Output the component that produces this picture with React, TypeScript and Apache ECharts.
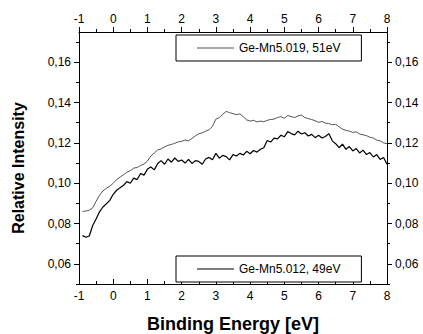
import React, { useEffect, useRef } from "react";
import * as echarts from "echarts";

const energy = [
  -0.9, -0.8, -0.7, -0.6, -0.5, -0.4, -0.3, -0.2, -0.1,
  0.0, 0.1, 0.2, 0.3, 0.4, 0.5, 0.6, 0.7, 0.8, 0.9,
  1.0, 1.1, 1.2, 1.3, 1.4, 1.5, 1.6, 1.7, 1.8, 1.9,
  2.0, 2.1, 2.2, 2.3, 2.4, 2.5, 2.6, 2.7, 2.8, 2.9,
  3.0, 3.1, 3.2, 3.3, 3.4, 3.5, 3.6, 3.7, 3.8, 3.9,
  4.0, 4.1, 4.2, 4.3, 4.4, 4.5, 4.6, 4.7, 4.8, 4.9,
  5.0, 5.1, 5.2, 5.3, 5.4, 5.5, 5.6, 5.7, 5.8, 5.9,
  6.0, 6.1, 6.2, 6.3, 6.4, 6.5, 6.6, 6.7, 6.8, 6.9,
  7.0, 7.1, 7.2, 7.3, 7.4, 7.5, 7.6, 7.7, 7.8, 7.9,
  8.0,
];

const ge5019 = [
  0.0860, 0.0862, 0.0866, 0.0878, 0.0910, 0.0940, 0.0962, 0.0975, 0.0985,
  0.1000, 0.1018, 0.1030, 0.1042, 0.1055, 0.1062, 0.1075, 0.1078, 0.1088, 0.1095,
  0.1110, 0.1135, 0.1150, 0.1165, 0.1170, 0.1180, 0.1188, 0.1192, 0.1198, 0.1205,
  0.1208, 0.1214, 0.1210, 0.1222, 0.1235, 0.1245, 0.1250, 0.1258, 0.1265, 0.1282,
  0.1318, 0.1325, 0.1342, 0.1356, 0.1350, 0.1345, 0.1340, 0.1344, 0.1330, 0.1314,
  0.1308, 0.1312, 0.1304, 0.1308, 0.1305, 0.1312, 0.1316, 0.1318, 0.1326, 0.1330,
  0.1322, 0.1336, 0.1330, 0.1326, 0.1334, 0.1338, 0.1326, 0.1320, 0.1316, 0.1310,
  0.1302, 0.1306, 0.1298, 0.1296, 0.1290, 0.1292, 0.1280, 0.1268, 0.1262, 0.1258,
  0.1252, 0.1255, 0.1244, 0.1240, 0.1236, 0.1228, 0.1224, 0.1214, 0.1210, 0.1200,
  0.1196,
];

const ge5012 = [
  0.0740, 0.0732, 0.0738, 0.0790, 0.0822, 0.0858, 0.0882, 0.0898, 0.0915,
  0.0945, 0.0965, 0.0978, 0.0990, 0.1008, 0.1000, 0.1025, 0.1018, 0.1048, 0.1040,
  0.1070, 0.1080, 0.1066, 0.1098, 0.1112, 0.1094, 0.1120, 0.1104, 0.1125, 0.1108,
  0.1115, 0.1100, 0.1118, 0.1098, 0.1112, 0.1108, 0.1094, 0.1120, 0.1128, 0.1116,
  0.1148, 0.1124, 0.1138, 0.1132, 0.1116, 0.1142, 0.1135, 0.1148, 0.1140, 0.1158,
  0.1146, 0.1162, 0.1154, 0.1168, 0.1176, 0.1212, 0.1204, 0.1224, 0.1220, 0.1238,
  0.1230, 0.1256, 0.1246, 0.1240, 0.1258, 0.1244, 0.1250, 0.1234, 0.1242, 0.1226,
  0.1238, 0.1224, 0.1232, 0.1246, 0.1210, 0.1196, 0.1176, 0.1194, 0.1168, 0.1182,
  0.1160, 0.1172, 0.1150, 0.1164, 0.1142, 0.1152, 0.1130, 0.1142, 0.1118, 0.1128,
  0.1094,
];

const yMajorTicks = [0.06, 0.08, 0.10, 0.12, 0.14, 0.16];
const yMinorTicks = [0.05, 0.07, 0.09, 0.11, 0.13, 0.15, 0.17];

const NAME_A = "Ge-Mn5.019, 51eV";
const NAME_B = "Ge-Mn5.012, 49eV";

const FONT = '"Liberation Sans", Arial, sans-serif';

export default function App() {
  const ref = useRef<HTMLDivElement>(null);

  useEffect(() => {
    if (!ref.current) return;
    const chart = echarts.init(ref.current, undefined, { renderer: "svg" });

    const black = { color: "#000", width: 1 };
    const fmtY = (v: number) => v.toFixed(2).replace(".", ",");

    const xAxisBase = (pos: "top" | "bottom") => ({
      type: "value",
      position: pos,
      min: -1,
      max: 8,
      interval: 1,
      axisLine: { show: true, onZero: false, lineStyle: black },
      axisTick: { show: true, inside: pos === "bottom", length: 5, lineStyle: black },
      minorTick: { show: true, splitNumber: 2, length: 3, lineStyle: black },
      axisLabel: { color: "#000", fontSize: 12, fontFamily: FONT, margin: pos === "bottom" ? 6 : 7 },
      splitLine: { show: false },
    });

    const yMajor = (pos: "left" | "right") => ({
      type: "value",
      position: pos,
      min: 0.05,
      max: 0.175,
      axisLine: { show: true, onZero: false, lineStyle: black },
      axisTick: { show: true, inside: false, length: 5, lineStyle: black, customValues: yMajorTicks },
      axisLabel: {
        color: "#000",
        fontSize: 12,
        fontFamily: FONT,
        margin: 8,
        customValues: yMajorTicks,
        formatter: fmtY,
      },
      splitLine: { show: false },
    });

    const yMinor = (pos: "left" | "right") => ({
      type: "value",
      position: pos,
      min: 0.05,
      max: 0.175,
      axisLine: { show: false, onZero: false },
      axisTick: { show: true, inside: false, length: 3, lineStyle: black, customValues: yMinorTicks },
      axisLabel: { show: false },
      splitLine: { show: false },
    });

    const legendBase = {
      orient: "horizontal",
      icon: "rect",
      itemWidth: 37,
      itemHeight: 1,
      padding: [6, 21, 6, 21],
      borderColor: "#000",
      borderWidth: 1,
      borderRadius: 0,
      backgroundColor: "#fff",
      textStyle: { color: "#000", fontSize: 12, fontFamily: FONT, lineHeight: 14 },
    };

    chart.setOption({
      animation: false,
      backgroundColor: "#fff",
      grid: { left: 79, right: 36, top: 32, bottom: 50, containLabel: false },
      xAxis: [xAxisBase("bottom"), xAxisBase("top")],
      yAxis: [yMajor("left"), yMinor("left"), yMajor("right"), yMinor("right")],
      legend: [
        { ...legendBase, data: [NAME_A], left: 176, top: 35 },
        { ...legendBase, data: [NAME_B], left: 176, top: 256 },
      ],
      series: [
        {
          name: NAME_A,
          type: "line",
          xAxisIndex: 0,
          yAxisIndex: 0,
          symbol: "none",
          showSymbol: false,
          lineStyle: { color: "#555", width: 1 },
          itemStyle: { color: "#555" },
          data: energy.map((x, i) => [x, ge5019[i]]),
        },
        {
          name: NAME_B,
          type: "line",
          xAxisIndex: 0,
          yAxisIndex: 0,
          symbol: "none",
          showSymbol: false,
          lineStyle: { color: "#000", width: 1.2 },
          itemStyle: { color: "#000" },
          data: energy.map((x, i) => [x, ge5012[i]]),
        },
      ],
      graphic: [
        {
          type: "text",
          x: 18,
          y: 168,
          rotation: Math.PI / 2,
          style: {
            text: "Relative Intensity",
            font: `bold 16px ${FONT}`,
            fill: "#000",
            align: "center",
            verticalAlign: "middle",
          },
        },
        {
          type: "text",
          x: 233,
          y: 324,
          style: {
            text: "Binding Energy [eV]",
            font: `bold 18px ${FONT}`,
            fill: "#000",
            align: "center",
            verticalAlign: "middle",
          },
        },
      ],
    });

    return () => chart.dispose();
  }, []);

  return (
    <div
      ref={ref}
      style={{ position: "absolute", left: 0, top: 0, width: 423, height: 334, background: "#fff" }}
    />
  );
}
